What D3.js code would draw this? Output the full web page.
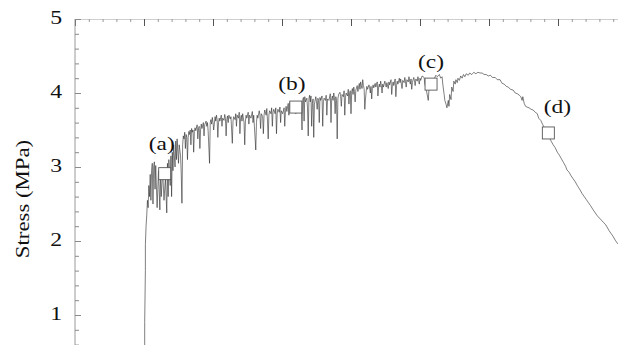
<!DOCTYPE html>
<html><head><meta charset="utf-8">
<script src="https://cdn.jsdelivr.net/npm/d3@7"></script>
<style>html,body{margin:0;padding:0;background:#fff;} svg{display:block;}</style>
</head><body><svg id="c" width="618" height="345"></svg>
<script>
// ---------- data ----------
const yTickValues = [1, 2, 3, 4, 5];
const yLabel = "Stress (MPa)";
const markerLabels = ["(a)", "(b)", "(c)", "(d)"];
const markerStrain = [1.30, 3.20, 5.16, 6.86];
const markerStress = [2.91, 3.81, 4.12, 3.46];
// [strain, stress]
const curve = [
[1.01,0.40],[1.01,0.90],[1.02,1.60],[1.02,1.95],[1.03,2.20],[1.04,2.35],[1.05,2.55],[1.06,2.45],[1.07,2.75],[1.08,2.60],[1.09,2.90],[1.10,2.55],[1.11,2.95],[1.12,3.05],[1.13,2.50],[1.14,3.00],[1.15,3.07],[1.16,2.70],[1.17,3.02],[1.19,2.45],[1.21,2.95],[1.23,2.42],[1.24,2.90],[1.25,2.60],[1.27,2.95],[1.29,2.55],[1.31,2.85],[1.33,2.38],[1.34,3.05],[1.35,2.60],[1.36,3.10],[1.38,2.75],[1.39,3.15],[1.40,2.60],[1.41,3.20],[1.42,2.95],[1.43,3.30],[1.45,3.00],[1.46,3.35],[1.47,3.10],[1.48,3.38],[1.50,3.05],[1.51,3.30],[1.53,3.15],[1.54,2.90],[1.55,2.51],
[1.56,3.30],[1.57,3.42],[1.58,3.38],[1.59,3.47],[1.60,3.25],[1.61,3.44],[1.62,3.40],[1.63,3.10],[1.64,3.40],[1.65,3.48],[1.66,3.44],[1.67,3.50],[1.68,3.30],[1.69,3.52],[1.70,3.47],[1.71,3.50],[1.72,3.20],[1.73,3.48],[1.74,3.53],[1.75,3.49],[1.77,3.57],[1.78,3.38],[1.79,3.52],[1.80,3.55],[1.81,3.25],[1.82,3.50],[1.83,3.58],[1.84,3.52],[1.86,3.60],[1.87,3.42],[1.88,3.57],[1.90,3.62],[1.91,3.55],[1.92,3.60],[1.93,3.48],[1.95,3.05],[1.96,3.60],[1.97,3.64],[1.98,3.58],[1.99,3.67],[2.00,3.60],[2.01,3.50],[2.03,3.68],[2.04,3.62],[2.05,3.70],[2.06,3.64],[2.07,3.40],[2.08,3.60],[2.09,3.66],[2.10,3.62],[2.12,3.70],[2.13,3.55],[2.14,3.66],[2.16,3.63],[2.17,3.71],[2.18,3.66],[2.19,3.42],[2.20,3.64],[2.21,3.69],[2.22,3.60],[2.23,3.70],[2.25,3.65],[2.26,3.68],[2.28,3.32],[2.29,3.62],[2.30,3.68],[2.32,3.64],[2.33,3.72],[2.34,3.55],[2.35,3.70],[2.37,3.66],[2.38,3.74],[2.39,3.45],[2.40,3.66],[2.41,3.70],[2.42,3.62],[2.43,3.72],[2.45,3.60],[2.46,3.30],[2.47,3.62],[2.48,3.70],[2.49,3.66],[2.51,3.74],[2.52,3.58],[2.53,3.70],[2.55,3.66],[2.57,3.75],[2.58,3.60],[2.59,3.70],[2.60,3.55],[2.62,3.23],[2.63,3.60],[2.64,3.70],[2.65,3.66],[2.67,3.76],[2.68,3.70],[2.69,3.52],[2.70,3.72],[2.72,3.68],[2.73,3.45],[2.74,3.70],[2.75,3.77],[2.77,3.70],[2.78,3.79],[2.79,3.62],[2.80,3.38],[2.81,3.70],[2.82,3.76],[2.84,3.72],[2.85,3.80],[2.86,3.55],[2.87,3.74],[2.88,3.78],[2.90,3.72],[2.91,3.80],[2.92,3.45],[2.93,3.72],[2.94,3.78],[2.96,3.74],[2.97,3.81],[2.98,3.60],[2.99,3.76],[3.01,3.72],[3.03,3.80],[3.04,3.55],[3.05,3.76],[3.06,3.82],[3.07,3.75],[3.09,3.86],[3.10,3.70],[3.11,3.87],
[3.12,3.88],[3.14,3.86],[3.17,3.89],[3.20,3.72],[3.22,3.87],[3.25,3.88],[3.28,3.80],[3.29,3.50],[3.30,3.90],[3.31,3.94],[3.32,3.62],[3.33,3.95],[3.34,3.88],[3.36,3.93],[3.37,3.80],[3.38,3.42],[3.39,3.92],[3.40,3.97],[3.41,3.88],[3.42,3.96],[3.43,3.55],[3.44,3.86],[3.45,3.92],[3.46,3.40],[3.47,3.85],[3.49,3.95],[3.50,3.88],[3.51,3.78],[3.52,3.93],[3.53,3.90],[3.54,3.60],[3.55,3.94],[3.56,3.90],[3.58,3.96],[3.59,3.55],[3.60,3.88],[3.61,3.93],[3.63,3.90],[3.64,3.97],[3.65,3.70],[3.66,3.92],[3.68,3.90],[3.70,3.99],[3.71,3.60],[3.72,3.92],[3.73,3.96],[3.74,3.90],[3.75,4.00],[3.76,3.94],[3.77,3.72],[3.78,3.95],[3.79,3.90],[3.80,3.38],[3.81,3.92],[3.82,3.98],[3.84,4.01],[3.85,3.95],[3.86,3.82],[3.87,3.98],[3.89,3.95],[3.90,4.03],[3.91,3.70],[3.92,3.94],[3.93,4.00],[3.95,3.96],[3.96,4.05],[3.97,3.85],[3.98,4.00],[3.99,4.03],[4.00,3.72],[4.01,4.02],[4.02,4.06],[4.03,3.98],[4.04,4.08],[4.05,4.02],[4.06,3.88],[4.07,4.04],[4.09,4.10],[4.10,4.02],[4.11,4.08],[4.12,4.13],[4.13,4.05],[4.14,4.15],[4.15,4.10],[4.16,4.06],[4.17,4.18],[4.18,4.10],[4.19,4.06],[4.20,3.78],[4.21,3.92],[4.22,4.02],[4.23,4.09],[4.24,4.05],[4.26,4.11],[4.27,4.07],[4.28,4.00],[4.29,4.09],[4.30,3.92],[4.31,4.06],[4.32,4.11],[4.33,4.07],[4.35,4.13],[4.36,4.08],[4.37,4.12],[4.38,4.15],[4.39,3.96],[4.40,4.08],[4.41,4.12],[4.42,4.08],[4.43,4.16],[4.44,4.10],[4.45,4.00],[4.46,4.12],[4.47,4.08],[4.49,4.16],[4.50,4.12],[4.51,4.08],[4.52,4.14],[4.54,4.06],[4.55,4.15],[4.56,4.11],[4.58,4.18],[4.59,3.98],[4.60,4.10],[4.61,4.15],[4.62,4.10],[4.64,4.19],[4.65,3.95],[4.66,4.10],[4.67,4.16],[4.68,4.12],[4.70,4.20],[4.71,4.14],[4.72,4.19],[4.73,4.12],[4.74,4.06],[4.75,4.17],[4.77,4.14],[4.78,4.21],[4.79,4.15],[4.80,4.08],[4.81,4.18],[4.83,4.15],[4.84,4.22],[4.85,4.16],[4.86,4.12],[4.87,4.19],[4.88,4.05],[4.89,4.14],[4.90,4.18],[4.91,4.21],[4.92,4.16],[4.93,4.10],[4.94,4.19],[4.96,4.16],[4.97,4.22],[4.98,4.17],[4.99,4.12],[5.00,4.20],[5.01,4.17],[5.03,4.23],
[5.06,4.21],[5.07,4.12],[5.09,4.05],[5.12,3.90],[5.13,4.05],[5.16,4.10],[5.20,4.18],[5.23,4.24],[5.25,4.22],[5.28,4.25],[5.30,4.20],[5.32,4.22],[5.33,4.12],[5.35,3.98],[5.36,3.90],[5.38,3.84],[5.39,3.80],[5.41,3.90],[5.42,3.82],[5.43,3.98],[5.45,3.91],[5.46,4.08],[5.48,4.02],[5.49,4.16],[5.51,4.12],[5.52,4.18],[5.54,4.14],[5.55,4.20],[5.57,4.17],[5.59,4.23],[5.61,4.20],[5.63,4.25],[5.65,4.22],[5.67,4.26],[5.70,4.24],[5.72,4.27],[5.75,4.25],[5.78,4.28],[5.81,4.26],[5.84,4.28],[5.87,4.27],[5.90,4.27],[5.93,4.25],[5.96,4.25],[5.99,4.23],[6.02,4.24],[6.05,4.21],[6.09,4.21],[6.12,4.18],[6.16,4.18],[6.19,4.13],[6.22,4.12],[6.25,4.09],[6.28,4.08],[6.31,4.05],[6.35,4.04],[6.38,4.00],[6.41,3.99],[6.44,3.97],[6.46,3.95],[6.48,3.90],[6.49,3.95],[6.51,3.86],[6.53,3.82],[6.55,3.81],[6.58,3.80],[6.61,3.78],[6.64,3.77],[6.67,3.74],[6.70,3.72],[6.72,3.66],[6.75,3.63],[6.78,3.57],[6.81,3.52],[6.84,3.46],[6.87,3.41],[6.90,3.35],[6.93,3.30],[6.96,3.26],[6.99,3.20],[7.02,3.16],[7.05,3.11],[7.08,3.06],[7.11,3.01],[7.13,2.96],[7.16,2.93],[7.19,2.88],[7.22,2.84],[7.25,2.80],[7.28,2.75],[7.30,2.72],[7.32,2.69],[7.35,2.64],[7.38,2.60],[7.41,2.56],[7.44,2.52],[7.47,2.48],[7.51,2.42],[7.54,2.38],[7.57,2.34],[7.60,2.31],[7.63,2.28],[7.66,2.25],[7.69,2.22],[7.71,2.19],[7.74,2.14],[7.77,2.10],[7.80,2.06],[7.83,2.01],[7.86,1.97],[7.88,1.95]
];

// ---------- layout ----------
const svg = d3.select("#c");
const x = d3.scaleLinear().domain([0, 8]).range([75, 627]);
const y = d3.scaleLinear().domain([0, 5]).range([389, 19]);
const serif = "'Liberation Serif','Times New Roman',serif";

// top axis (ticks pointing down, no labels)
const topMinor = d3.axisBottom(x).tickValues(d3.range(0, 8.001, 0.2)).tickSize(3).tickSizeOuter(0).tickFormat("");
const topMajor = d3.axisBottom(x).tickValues(d3.range(0, 8.001, 1)).tickSize(7).tickSizeOuter(0).tickFormat("");
const gTop1 = svg.append("g").attr("transform", `translate(0,${y(5)})`).call(topMinor);
gTop1.select(".domain").attr("stroke", "#cfcfcf");
gTop1.selectAll(".tick line").attr("stroke", "#9a9a9a");
const gTop2 = svg.append("g").attr("transform", `translate(0,${y(5)})`).call(topMajor);
gTop2.select(".domain").remove();
gTop2.selectAll(".tick line").attr("stroke", "#555");

// left axis (ticks pointing right)
const leftMinor = d3.axisRight(y).tickValues(d3.range(0.6, 5.001, 0.2)).tickSize(4).tickSizeOuter(0).tickFormat("");
const leftMajor = d3.axisRight(y).tickValues(yTickValues).tickSize(6).tickSizeOuter(0).tickFormat("");
const gL1 = svg.append("g").attr("transform", `translate(${x(0)},0)`).call(leftMinor);
gL1.select(".domain").attr("stroke", "#9a9a9a").attr("d", `M0,${y(5)}V${y(0)}`);
gL1.selectAll(".tick line").attr("stroke", "#8a8a8a");
const gL2 = svg.append("g").attr("transform", `translate(${x(0)},0)`).call(leftMajor);
gL2.select(".domain").remove();
gL2.selectAll(".tick line").attr("stroke", "#8a8a8a");

// tick labels
svg.append("g").selectAll("text").data(yTickValues).join("text")
  .attr("transform", d => `translate(62,${y(d) + 4.5}) scale(1.25,1)`)
  .attr("text-anchor", "end")
  .attr("font-family", serif).attr("font-size", 19).attr("fill", "#111")
  .text(d => d);

// y label
svg.append("text")
  .attr("transform", `translate(29,199) rotate(-90) scale(1.2,1)`)
  .attr("text-anchor", "middle")
  .attr("font-family", serif).attr("font-size", 19).attr("fill", "#111")
  .text(yLabel);

// curve
svg.append("path").datum(curve)
  .attr("fill", "none").attr("stroke", "#2a2a2a").attr("stroke-width", 0.6)
  .attr("stroke-linejoin", "round")
  .attr("d", d3.line().x(d => x(d[0])).y(d => y(d[1])));

// markers
const labelDx = [-3, -4, 0, 9];
const labelDy = [-23.5, -17.5, -16, -20];
const mk = svg.append("g");
markerLabels.forEach((lab, i) => {
  const cx = x(markerStrain[i]), cy = y(markerStress[i]);
  mk.append("rect").attr("x", cx - 6).attr("y", cy - 6).attr("width", 12).attr("height", 12)
    .attr("fill", "#fff").attr("stroke", "#555").attr("stroke-width", 0.9);
  mk.append("text")
    .attr("transform", `translate(${cx + labelDx[i]},${cy + labelDy[i]}) scale(1.3,1)`)
    .attr("text-anchor", "middle")
    .attr("font-family", serif).attr("font-size", 18).attr("fill", "#111")
    .text(lab);
});
</script>
</body></html>
